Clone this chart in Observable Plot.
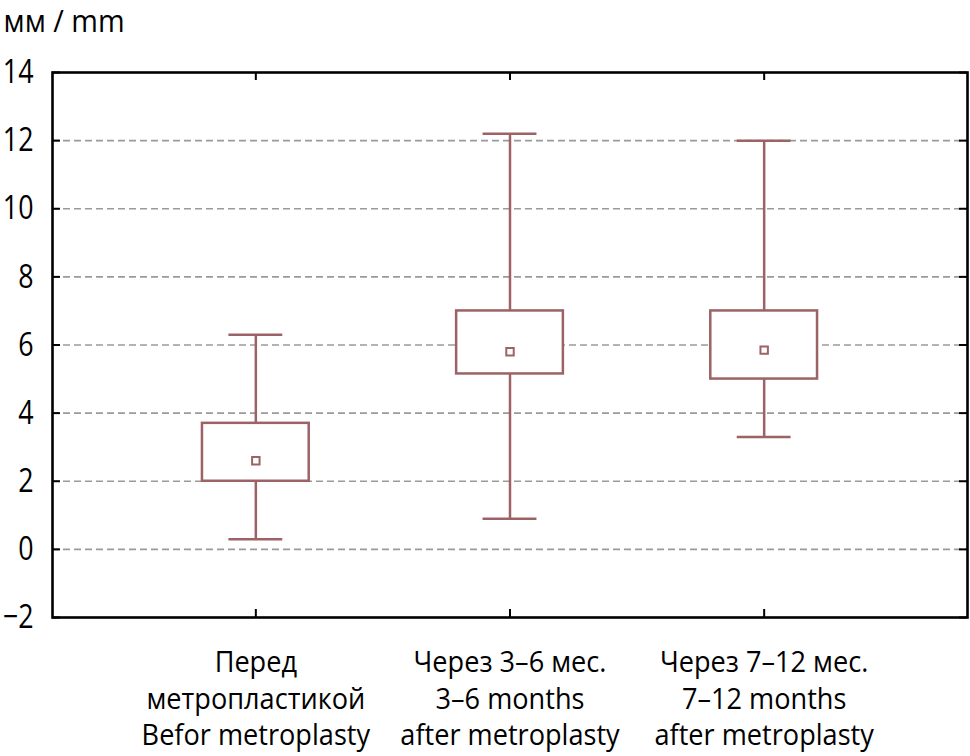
<!DOCTYPE html>
<html>
<head>
<meta charset="utf-8">
<script src="https://cdn.jsdelivr.net/npm/d3@7"></script>
<script src="https://cdn.jsdelivr.net/npm/@observablehq/plot@0.6"></script>
<style>
  html, body { margin: 0; padding: 0; background: #fff; }
  #chart svg { display: block; }
</style>
</head>
<body>
<div id="chart"></div>
<script>
// Data
const categories = [
  "Перед\nметропластикой\nBefor metroplasty",
  "Через 3–6 мес.\n3–6 months\nafter metroplasty",
  "Через 7–12 мес.\n7–12 months\nafter metroplasty"
];
const minValues  = [0.3, 0.9, 3.3];
const q1Values   = [2.0, 5.15, 5.0];
const meanValues = [2.6, 5.8, 5.85];
const q3Values   = [3.7, 7.0, 7.0];
const maxValues  = [6.3, 12.2, 12.0];
const yTicks = [-2, 0, 2, 4, 6, 8, 10, 12, 14];
const gridTicks = [0, 2, 4, 6, 8, 10, 12];
const unitLabel = "мм / mm";

const rows = categories.map((c, i) => ({
  i, c, min: minValues[i], q1: q1Values[i], mean: meanValues[i], q3: q3Values[i], max: maxValues[i]
}));

const FONT = "'Open Sans', 'Noto Sans', sans-serif";
const boxColor = "#9c6266";
const W = 970, H = 756, ML = 52, MR = 3, MT = 72, MB = 139;
const innerW = W - ML - MR, innerH = H - MT - MB;
const boxHalf = 0.21, capHalf = 0.106;

const chart = Plot.plot({
  width: W,
  height: H,
  marginLeft: ML,
  marginRight: MR,
  marginTop: MT,
  marginBottom: MB,
  style: { fontFamily: FONT, background: "white", overflow: "visible" },
  x: { domain: [-0.8, 2.8] },
  y: { domain: [-2, 14] },
  marks: [
    // dashed gridlines
    Plot.ruleY(gridTicks, { stroke: "#9a9a9a", strokeWidth: 1.6, strokeDasharray: "7,4" }),
    // whiskers
    Plot.ruleX(rows, { x: "i", y1: "q3", y2: "max", stroke: boxColor, strokeWidth: 2.5 }),
    Plot.ruleX(rows, { x: "i", y1: "min", y2: "q1", stroke: boxColor, strokeWidth: 2.5 }),
    Plot.ruleY(rows, { y: "max", x1: d => d.i - capHalf, x2: d => d.i + capHalf, stroke: boxColor, strokeWidth: 2.5 }),
    Plot.ruleY(rows, { y: "min", x1: d => d.i - capHalf, x2: d => d.i + capHalf, stroke: boxColor, strokeWidth: 2.5 }),
    // boxes
    Plot.rect(rows, { x1: d => d.i - boxHalf, x2: d => d.i + boxHalf, y1: "q1", y2: "q3", fill: "white", stroke: boxColor, strokeWidth: 2.5 }),
    // mean markers
    Plot.dot(rows, { x: "i", y: "mean", symbol: "square", r: 4.2, fill: "white", stroke: boxColor, strokeWidth: 2 }),
    // inner ticks: left and right
    Plot.tickY(yTicks, { y: d => d, insetRight: innerW - 8, stroke: "black", strokeWidth: 2 }),
    Plot.tickY(yTicks, { y: d => d, insetLeft: innerW - 8, stroke: "black", strokeWidth: 2 }),
    // inner ticks: top and bottom at categories
    Plot.tickX(rows, { x: "i", insetBottom: innerH - 8, stroke: "black", strokeWidth: 2 }),
    Plot.tickX(rows, { x: "i", insetTop: innerH - 8, stroke: "black", strokeWidth: 2 }),
    // frame
    Plot.frame({ stroke: "black", strokeWidth: 2.6 }),
    // axes
    Plot.axisY(yTicks, { tickSize: 0, tickPadding: 19, fontSize: 33.5, fill: "black", label: null }),
    Plot.axisX([0, 1, 2], { tickSize: 0, tickPadding: 28, fontSize: 29.5, lineHeight: 1.25, fill: "black", label: null,
      tickFormat: i => categories[i] }),
    // unit label
    Plot.text([unitLabel], { frameAnchor: "top-left", dx: -49, dy: -50, textAnchor: "start", lineAnchor: "middle", fontSize: 31, fill: "black" })
  ]
});

// emulate the condensed face of the original lettering
function condense(selector, s) {
  d3.select(chart).selectAll(selector).each(function () {
    const t = this.getAttribute("transform") || "";
    this.setAttribute("transform", t + ` scale(${s},1)`);
  });
}
condense("g[aria-label='y-axis tick label'] text", 0.8);
condense("g[aria-label='x-axis tick label'] text", 0.92);
condense("g[aria-label='text'] text", 0.93);

document.getElementById("chart").appendChild(chart);
</script>
</body>
</html>
